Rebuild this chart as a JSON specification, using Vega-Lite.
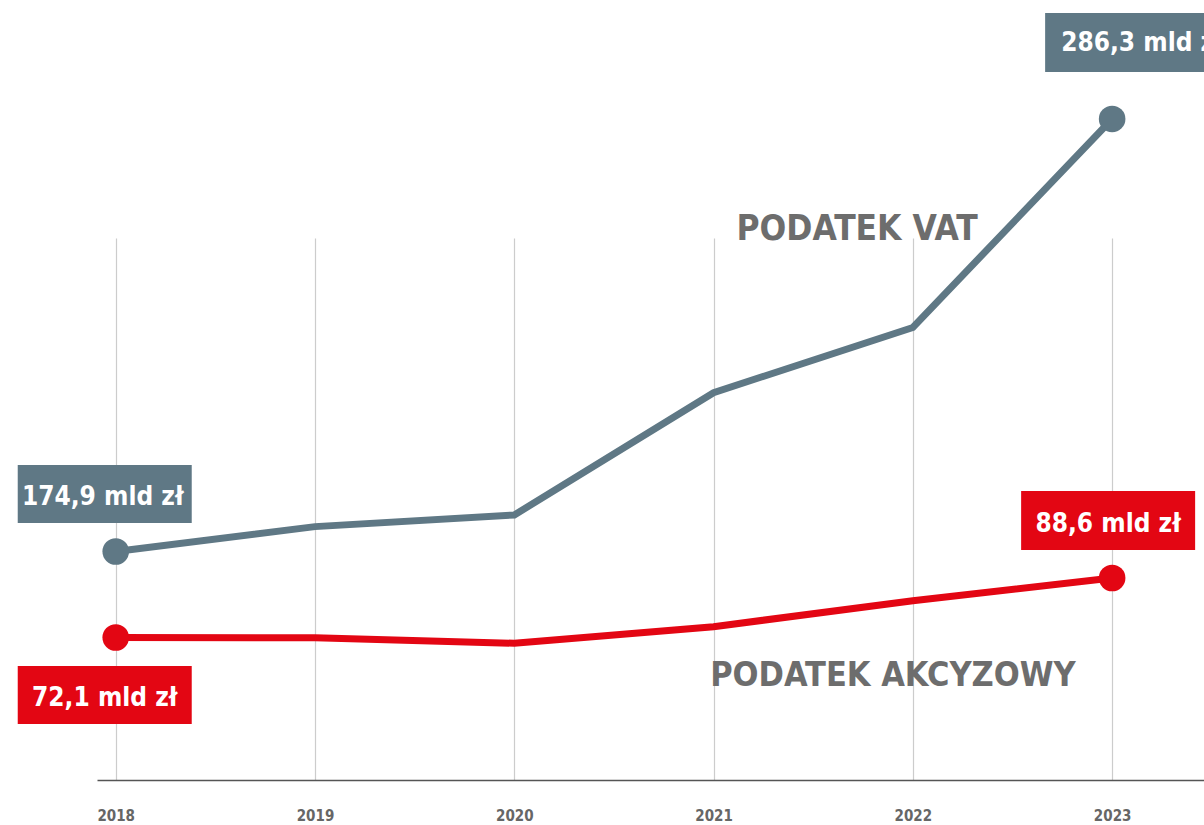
{
  "$schema": "https://vega.github.io/schema/vega-lite/v6.json",
  "width": 1107,
  "height": 542,
  "autosize": {"type": "none"},
  "padding": {"left": 97, "top": 238, "right": 0, "bottom": 45},
  "background": "white",
  "config": {"view": {"stroke": null}, "font": "DejaVu Sans Condensed, sans-serif"},
  "datasets": {
    "tax": [
      {"year": 2018, "series": "VAT", "value": 174.9},
      {"year": 2019, "series": "VAT", "value": 181.3},
      {"year": 2020, "series": "VAT", "value": 184.3},
      {"year": 2021, "series": "VAT", "value": 215.8},
      {"year": 2022, "series": "VAT", "value": 232.6},
      {"year": 2023, "series": "VAT", "value": 286.3},
      {"year": 2018, "series": "AKCYZA", "value": 72.1},
      {"year": 2019, "series": "AKCYZA", "value": 72.0},
      {"year": 2020, "series": "AKCYZA", "value": 70.5},
      {"year": 2021, "series": "AKCYZA", "value": 75.1},
      {"year": 2022, "series": "AKCYZA", "value": 82.3},
      {"year": 2023, "series": "AKCYZA", "value": 88.6}
    ]
  },
  "data": {"name": "tax"},
  "transform": [
    {"calculate": "replace(format(datum.value, '.1f'), '.', ',') + ' mld zł'", "as": "label"}
  ],
  "encoding": {
    "x": {
      "field": "year",
      "type": "quantitative",
      "scale": {"domain": [2017.906, 2023.461], "nice": false, "zero": false},
      "axis": {
        "values": [2018, 2019, 2020, 2021, 2022, 2023],
        "format": "d",
        "title": null,
        "grid": true,
        "gridColor": "#cccccc",
        "gridWidth": 1.2,
        "ticks": false,
        "domainColor": "#555555",
        "domainWidth": 1.5,
        "labelFont": "DejaVu Sans Condensed, sans-serif",
        "labelFontWeight": "bold",
        "labelFontSize": 15,
        "labelColor": "#666666",
        "labelPadding": 28,
        "labelFlush": false
      }
    }
  },
  "layer": [
    {
      "transform": [{"filter": "datum.series === 'VAT'"}],
      "encoding": {
        "y": {"field": "value", "type": "quantitative", "scale": {"domain": [116.04, 255.64], "nice": false, "zero": false}, "axis": null}
      },
      "layer": [
        {"mark": {"type": "line", "color": "#5f7885", "strokeWidth": 7}},
        {
          "transform": [{"filter": "datum.year === 2018 || datum.year === 2023"}],
          "mark": {"type": "circle", "size": 707, "color": "#5f7885", "opacity": 1}
        },
        {
          "transform": [{"filter": "datum.year === 2018 || datum.year === 2023"}],
          "mark": {"type": "point", "filled": true, "color": "#5f7885", "opacity": 1, "strokeWidth": 0},
          "encoding": {
            "shape": {"field": "year", "type": "nominal", "scale": {"domain": [2018, 2023], "range": ["M-98,-86.5H76V-28.5H-98Z", "M-67,-106H107V-47H-67Z"]}, "legend": null},
            "size": {"value": 4}
          }
        },
        {
          "transform": [{"filter": "datum.year === 2018"}],
          "mark": {"type": "text", "color": "white", "fontWeight": "bold", "fontSize": 26, "align": "center", "baseline": "middle", "dx": -13, "dy": -54.5},
          "encoding": {"text": {"field": "label"}}
        },
        {
          "transform": [{"filter": "datum.year === 2023"}],
          "mark": {"type": "text", "color": "white", "fontWeight": "bold", "fontSize": 26, "align": "left", "baseline": "middle", "dx": -51, "dy": -76},
          "encoding": {"text": {"field": "label"}}
        },
        {
          "transform": [{"filter": "datum.year === 2021"}],
          "mark": {"type": "text", "color": "#6d6d6d", "fontWeight": "bold", "fontSize": 35, "align": "center", "baseline": "middle"},
          "encoding": {
            "x": {"datum": 2021.72},
            "y": {"datum": 258.0},
            "text": {"value": "PODATEK VAT"}
          }
        }
      ]
    },
    {
      "transform": [{"filter": "datum.series === 'AKCYZA'"}],
      "encoding": {
        "y": {"field": "value", "type": "quantitative", "scale": {"domain": [32.58, 182.9], "nice": false, "zero": false}, "axis": null}
      },
      "layer": [
        {"mark": {"type": "line", "color": "#e30613", "strokeWidth": 7}},
        {
          "transform": [{"filter": "datum.year === 2018 || datum.year === 2023"}],
          "mark": {"type": "circle", "size": 707, "color": "#e30613", "opacity": 1}
        },
        {
          "transform": [{"filter": "datum.year === 2018 || datum.year === 2023"}],
          "mark": {"type": "point", "filled": true, "color": "#e30613", "opacity": 1, "strokeWidth": 0},
          "encoding": {
            "shape": {"field": "year", "type": "nominal", "scale": {"domain": [2018, 2023], "range": ["M-98,28.5H76V86.5H-98Z", "M-91,-87H83V-28H-91Z"]}, "legend": null},
            "size": {"value": 4}
          }
        },
        {
          "transform": [{"filter": "datum.year === 2018"}],
          "mark": {"type": "text", "color": "white", "fontWeight": "bold", "fontSize": 26, "align": "center", "baseline": "middle", "dx": -11, "dy": 60},
          "encoding": {"text": {"field": "label"}}
        },
        {
          "transform": [{"filter": "datum.year === 2023"}],
          "mark": {"type": "text", "color": "white", "fontWeight": "bold", "fontSize": 26, "align": "center", "baseline": "middle", "dx": -4, "dy": -54.5},
          "encoding": {"text": {"field": "label"}}
        },
        {
          "transform": [{"filter": "datum.year === 2021"}],
          "mark": {"type": "text", "color": "#6d6d6d", "fontWeight": "bold", "fontSize": 34, "align": "center", "baseline": "middle"},
          "encoding": {
            "x": {"datum": 2021.9},
            "y": {"datum": 61.3},
            "text": {"value": "PODATEK AKCYZOWY"}
          }
        }
      ]
    }
  ],
  "resolve": {"scale": {"y": "independent", "shape": "independent"}}
}
